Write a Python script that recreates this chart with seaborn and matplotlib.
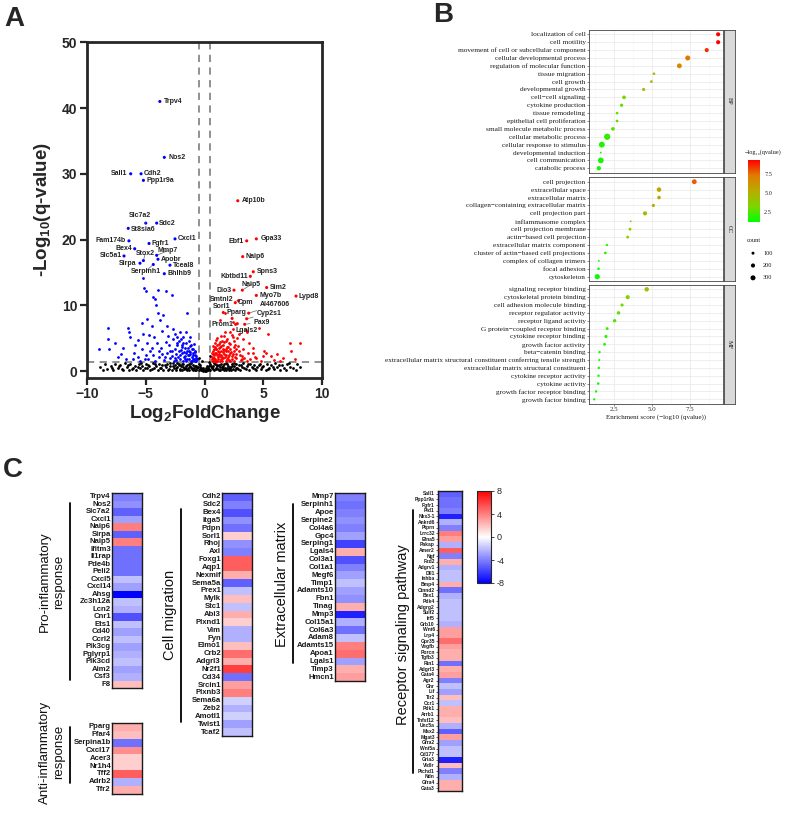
import matplotlib
matplotlib.use('Agg')
import matplotlib.pyplot as plt
import matplotlib.cm as cm
from matplotlib.colors import LinearSegmentedColormap, Normalize
from matplotlib.lines import Line2D
import seaborn as sns
import numpy as np
import pandas as pd

# ======================= DATA =======================
# ---- Panel A: volcano plot (log2FC, -log10 q) ----
down_points = [(-9.0, 3.4), (-8.2, 6.6), (-8.2, 4.8), (-8.1, 3.3), (-7.6, 4.2), (-7.4, 2.2), (-7.1, 2.6),
               (-6.9, 3.5), (-6.7, 1.9), (-6.5, 6.5), (-6.4, 5.9), (-6.3, 5.2), (-6.1, 1.8), (-6.0, 2.8),
               (-5.9, 4.0), (-5.7, 4.7), (-5.7, 2.2), (-5.5, 1.6), (-5.35, 7.3), (-5.3, 3.3), (-5.25, 5.7),
               (-5.2, 14.2), (-5.15, 12.6), (-5.0, 12.1), (-5.0, 2.5), (-4.9, 7.9), (-4.9, 4.3), (-4.8, 1.9),
               (-4.6, 3.0), (-4.5, 6.9), (-4.5, 3.5), (-4.4, 11.3), (-4.3, 5.2), (-4.2, 11.0), (-4.1, 10.1),
               (-4.05, 4.3), (-4.0, 12.3), (-4.0, 8.8), (-3.9, 2.2), (-3.8, 7.8), (-3.7, 3.5), (-3.6, 6.1),
               (-3.5, 8.5), (-3.45, 1.7), (-3.3, 12.2), (-3.2, 6.9), (-3.2, 2.8), (-3.1, 5.3), (-3.0, 4.0),
               (-2.9, 2.0), (-2.8, 11.5), (-2.8, 2.3), (-2.7, 6.4), (-2.65, 4.8), (-2.5, 3.4), (-2.4, 2.6),
               (-2.3, 5.1), (-2.2, 4.6), (-2.1, 5.9), (-2.05, 1.8), (-2.0, 3.2), (-1.95, 2.8), (-1.9, 4.0),
               (-1.8, 4.3), (-1.75, 2.2), (-1.7, 3.5), (-1.6, 1.6), (-1.55, 5.9), (-1.5, 3.1), (-1.45, 8.9),
               (-1.4, 2.5), (-1.35, 4.5), (-1.3, 1.9), (-1.25, 3.8), (-1.2, 2.9), (-1.15, 1.5), (-1.1, 3.3),
               (-1.05, 2.2), (-1.0, 2.7), (-0.95, 3.3), (-0.9, 1.8), (-0.85, 2.4), (-0.8, 1.5), (-0.75, 2.0),
               (-0.7, 1.6), (-2.6, 1.5), (-3.6, 2.6), (-4.2, 1.6), (-1.6, 2.7), (-2.3, 3.9), (-1.85, 1.5),
               (-2.75, 3.1), (-3.3, 4.4), (-4.7, 5.5), (-1.3, 2.4), (-1.0, 1.9), (-0.8, 2.9), (-1.7, 1.9),
               (-2.1, 2.4), (-2.5, 2.0), (-1.4, 3.5), (-0.9, 4.1), (-1.2, 5.2), (-2.0, 4.9),
               (-2.45, 1.7), (-2.25, 2.2), (-2.15, 3.1), (-1.95, 3.6), (-1.65, 2.3), (-1.55, 4.2),
               (-1.45, 1.8), (-1.25, 2.6), (-1.15, 4.0), (-1.05, 1.6), (-0.95, 2.5), (-0.85, 3.0),
               (-0.72, 2.3), (-0.68, 1.8), (-1.35, 3.0), (-1.75, 2.9), (-2.35, 4.3), (-2.9, 3.0),
               (-3.4, 2.2), (-3.9, 3.0), (-4.4, 2.4), (-5.1, 1.8), (-2.55, 5.6), (-1.85, 5.2)]
up_points = [(0.6, 1.6), (0.65, 2.1), (0.7, 3.0), (0.74, 3.8), (0.8, 1.5), (0.85, 2.5), (0.88, 4.3),
             (0.9, 1.9), (0.95, 3.4), (1.0, 2.8), (1.01, 3.3), (1.05, 5.0), (1.1, 1.6), (1.15, 2.2),
             (1.16, 3.1), (1.2, 4.1), (1.25, 2.6), (1.3, 7.8), (1.3, 2.3), (1.35, 3.6), (1.4, 1.8),
             (1.44, 3.8), (1.5, 4.6), (1.55, 2.9), (1.6, 2.0), (1.65, 5.3), (1.7, 3.2), (1.74, 8.8),
             (1.74, 5.9), (1.8, 1.5), (1.85, 2.5), (1.87, 4.6), (1.9, 3.7), (2.0, 2.1), (2.05, 4.2),
             (2.1, 1.7), (2.16, 2.8), (2.16, 4.1), (2.2, 3.3), (2.3, 5.5), (2.35, 2.3), (2.44, 6.4),
             (2.44, 7.4), (2.44, 5.1), (2.5, 1.6), (2.55, 3.0), (2.6, 4.0), (2.7, 2.0), (2.72, 3.3),
             (2.8, 5.0), (2.87, 3.8), (2.95, 5.6), (3.0, 2.5), (3.1, 1.7), (3.15, 2.3), (3.24, 4.8),
             (3.3, 3.3), (3.4, 2.0), (3.5, 6.2), (3.59, 5.9), (3.6, 1.5), (3.72, 2.8), (3.8, 4.3),
             (3.9, 1.8), (4.1, 3.5), (4.1, 2.8), (4.3, 2.2), (4.4, 2.0), (4.64, 6.6), (4.8, 1.6),
             (5.0, 2.3), (5.1, 3.0), (5.24, 2.8), (5.44, 5.6), (5.67, 2.3), (5.9, 1.7), (6.2, 2.6),
             (6.67, 2.0), (6.4, 1.5), (7.28, 4.2), (7.4, 3.0), (7.7, 1.8), (8.12, 4.2), (1.0, 1.4),
             (1.4, 2.5), (1.2, 3.5), (0.75, 2.6), (1.7, 2.6), (2.0, 3.0), (2.4, 2.6), (2.6, 2.2),
             (1.9, 1.9), (1.5, 1.5), (2.2, 1.5), (0.7, 2.0), (1.1, 2.5), (1.3, 4.4), (0.9, 3.6),
             (1.6, 3.9), (2.3, 1.9), (1.8, 3.4), (0.95, 1.6),
             (0.62, 2.8), (0.68, 1.8), (0.78, 3.3), (0.82, 2.0), (0.92, 2.8), (1.08, 3.9), (1.12, 1.9),
             (1.22, 2.9), (1.32, 1.6), (1.38, 3.1), (1.48, 2.1), (1.58, 3.4), (1.62, 4.4), (1.78, 2.2),
             (1.82, 3.0), (1.92, 4.9), (2.02, 3.6), (2.12, 2.4), (2.28, 2.9), (2.48, 3.6), (2.52, 4.6),
             (2.68, 2.6), (2.9, 3.0), (3.2, 1.9), (0.72, 1.5), (1.02, 4.7), (1.42, 5.3), (2.2, 6.0)]
ns_points = [(-8.9, 0.6), (-8.5, 1.0), (-8.3, 0.3), (-8.0, 0.8), (-7.8, 0.2), (-7.6, 1.1), (-7.4, 0.5),
             (-7.2, 0.9), (-7.0, 0.3), (-6.8, 1.2), (-6.6, 0.6), (-6.4, 0.2), (-6.3, 1.0), (-6.1, 0.5),
             (-5.9, 0.8), (-5.8, 0.1), (-5.6, 1.1), (-5.5, 0.4), (-5.3, 0.7), (-5.2, 0.2), (-5.0, 1.0),
             (-4.9, 0.5), (-4.7, 0.8), (-4.6, 0.1), (-4.4, 1.2), (-4.3, 0.4), (-4.1, 0.7), (-4.0, 0.2),
             (-3.9, 1.0), (-3.7, 0.5), (-3.6, 0.9), (-3.5, 0.1), (-3.3, 0.6), (-3.2, 1.1), (-3.0, 0.3),
             (-2.9, 0.8), (-2.8, 0.2), (-2.7, 1.2), (-2.6, 0.5), (-2.5, 0.9), (-2.4, 0.1), (-2.3, 0.6),
             (-2.2, 1.0), (-2.1, 0.3), (-2.0, 0.7), (-1.9, 0.2), (-1.8, 1.1), (-1.7, 0.5), (-1.6, 0.8),
             (-1.5, 0.1), (-1.4, 0.4), (-1.3, 1.0), (-1.2, 0.6), (-1.1, 0.3), (-1.0, 0.9), (-0.9, 0.5),
             (-0.8, 0.2), (-0.7, 0.7), (-0.6, 0.4), (-0.5, 1.1), (-0.45, 2.0), (-0.4, 0.3), (-0.35, 0.9),
             (-0.3, 0.2), (-0.25, 1.5), (-0.2, 0.1), (-0.15, 0.5), (-0.1, 0.05), (0.0, 0.0), (0.1, 0.05),
             (0.15, 0.4), (0.2, 0.1), (0.25, 0.8), (0.3, 0.2), (0.35, 1.4), (0.4, 0.3), (0.45, 2.3),
             (0.5, 1.0), (0.6, 0.4), (0.7, 0.8), (0.8, 0.2), (0.9, 1.1), (1.0, 0.5), (1.1, 0.9), (1.2, 0.1),
             (1.3, 0.6), (1.4, 1.0), (1.5, 0.3), (1.6, 0.7), (1.7, 0.2), (1.8, 1.2), (1.9, 0.5), (2.0, 0.8),
             (2.1, 0.1), (2.2, 0.6), (2.3, 1.0), (2.4, 0.3), (2.5, 0.7), (2.6, 0.2), (2.7, 1.1), (2.8, 0.5),
             (2.9, 0.9), (3.0, 0.1), (3.2, 0.6), (3.3, 1.2), (3.5, 0.3), (3.6, 0.8), (3.8, 0.2), (3.9, 1.0),
             (4.1, 0.5), (4.2, 0.9), (4.4, 0.1), (4.5, 0.6), (4.7, 1.1), (4.8, 0.3), (5.0, 0.8), (5.2, 0.2),
             (5.3, 1.0), (5.5, 0.5), (5.7, 0.9), (5.9, 0.3), (6.0, 1.2), (6.2, 0.6), (6.4, 0.2), (6.6, 0.9),
             (6.8, 0.4), (7.0, 1.1), (7.3, 0.6), (7.56, 0.4), (7.9, 1.0), (8.1, 0.6), (-1.55, 0.35),
             (-1.25, 0.75), (-0.95, 0.15), (-0.65, 0.55), (0.65, 0.6), (0.95, 0.25), (1.25, 0.85),
             (1.55, 0.5), (1.85, 0.15), (2.15, 0.4), (-2.15, 0.85), (-2.45, 0.45), (-1.85, 0.6),
             (-6.9, 0.15), (-6.5, 0.9), (-6.2, 0.35), (-5.7, 0.6), (-5.4, 1.2), (-5.1, 0.45), (-4.8, 0.9),
             (-4.5, 0.25), (-4.2, 1.05), (-3.8, 0.45), (-3.4, 0.85), (-3.1, 0.15), (-2.95, 1.25),
             (-2.65, 0.7), (-2.35, 1.2), (-2.05, 0.2), (-1.95, 1.0), (-1.75, 0.35), (-1.45, 0.9),
             (-1.35, 0.15), (-1.15, 1.2), (-1.05, 0.4), (-0.85, 0.8), (-0.75, 0.1), (-0.55, 0.6),
             (-0.48, 0.2), (-0.38, 0.6), (-0.28, 0.45), (-0.05, 0.15), (0.05, 0.2), (0.28, 0.5),
             (0.38, 0.7), (0.48, 0.15), (0.55, 0.8), (0.75, 0.3), (0.85, 1.2), (1.05, 0.7), (1.15, 0.35),
             (1.35, 0.2), (1.45, 0.6), (1.65, 1.1), (1.75, 0.45), (1.95, 1.0), (2.05, 0.35), (2.25, 0.15),
             (2.35, 0.8), (2.55, 1.2), (2.65, 0.45), (2.85, 0.25), (3.1, 0.9), (3.4, 0.5), (3.7, 1.1),
             (4.0, 0.6), (4.3, 0.35), (4.6, 0.9), (4.9, 0.55), (5.4, 0.25), (5.8, 0.6), (6.3, 0.9),
             (6.9, 0.2), (7.2, 1.2), (7.8, 0.2), (-7.9, 0.5), (-7.3, 0.7), (-8.6, 0.2)]

# labelled genes: name, log2FC, -log10 q
lab_genes = ["Trpv4", "Nos2", "Sall1", "Cdh2", "Ppp1r9a", "Atp10b", "Slc7a2", "Sdc2", "St8sia6", "Cxcl1",
             "Fam174b", "Fgfr1", "Bex4", "Mmp7", "Stox2", "Apobr", "Slc5a1", "Sirpa", "Serpinh1", "Tceal8",
             "Bhlhb9", "Ebf1", "Gpa33", "Naip6", "Spns3", "Kbtbd11", "Naip5", "Sim2", "Dio3", "Myo7b",
             "Lypd8", "Smtnl2", "Cpm", "AI467606", "Sorl1", "Pparg", "Cyp2s1", "Pax9", "Prom1", "Lgals2"]
lab_x = [-3.8, -3.42, -6.28, -5.4, -5.2, 2.83, -5.0, -4.07, -6.49, -2.51,
         -6.43, -4.72, -5.94, -4.07, -5.2, -3.96, -6.85, -5.49, -4.36, -2.94,
         -3.42, 3.59, 4.41, 3.25, 4.15, 3.9, 3.22, 5.29, 2.51, 4.41,
         7.79, 2.9, 2.62, 3.76, 1.6, 2.35, 3.59, 3.42, 2.65, 2.79]
lab_y = [41.0, 32.5, 30.0, 30.0, 29.0, 25.9, 22.5, 22.5, 21.7, 20.1,
         19.8, 19.4, 18.6, 17.6, 16.8, 17.0, 17.5, 16.4, 16.2, 16.1,
         14.8, 19.8, 20.1, 17.4, 15.1, 14.4, 12.3, 12.7, 12.3, 11.5,
         11.4, 10.7, 10.4, 8.8, 8.9, 8.0, 7.95, 7.1, 7.1, 7.2]
# label placement (style)
lab_tx = [-3.45, -3.1, -6.55, -5.15, -4.93, 3.2, -5.5, -3.85, -6.28, -2.29,
          -6.68, -4.5, -6.12, -3.99, -5.05, -3.74, -7.05, -5.77, -5.0, -2.71,
          -3.17, 3.3, 4.78, 3.5, 4.43, 3.72, 4.0, 5.52, 2.31, 4.67,
          7.98, 2.45, 2.79, 4.72, 2.22, 1.88, 4.43, 4.15, 2.45, 2.65]
lab_ty = [41.0, 32.5, 30.0, 30.0, 29.0, 25.9, 23.6, 22.5, 21.6, 20.1,
          19.8, 19.4, 18.6, 18.3, 17.8, 17.0, 17.5, 16.4, 15.2, 16.1,
          14.8, 19.7, 20.1, 17.4, 15.1, 14.4, 13.2, 12.7, 12.3, 11.5,
          11.4, 10.9, 10.4, 10.1, 9.8, 8.9, 8.8, 7.45, 7.1, 6.1]
lab_ha = ['left', 'left', 'right', 'left', 'left', 'left', 'center', 'left', 'left', 'left',
          'right', 'left', 'right', 'left', 'center', 'left', 'right', 'right', 'center', 'left',
          'left', 'right', 'left', 'left', 'left', 'right', 'center', 'left', 'right', 'left',
          'left', 'right', 'left', 'left', 'right', 'left', 'left', 'left', 'right', 'left']
lab_leader = [False, False, False, False, False, False, True, False, False, False,
              False, False, False, True, True, False, False, False, True, False,
              False, False, False, False, False, False, True, False, False, False,
              False, True, False, True, False, False, True, True, False, True]

# ---- Panel B: GO enrichment ----
bp_terms = ["localization of cell", "cell motility", "movement of cell or subcellular component",
            "cellular developmental process", "regulation of molecular function", "tissue migration",
            "cell growth", "developmental growth", "cell\u2212cell signaling", "cytokine production",
            "tissue remodeling", "epithelial cell proliferation", "small molecule metabolic process",
            "cellular metabolic process", "cellular response to stimulus", "developmental induction",
            "cell communication", "catabolic process"]
bp_score = [9.35, 9.35, 8.6, 7.35, 6.8, 5.13, 4.96, 4.45, 3.16, 3.0, 2.7, 2.7, 2.43, 2.05, 1.7, 1.63, 1.63, 1.5]
bp_count = [200, 200, 200, 300, 280, 70, 80, 110, 160, 120, 80, 80, 150, 480, 420, 30, 400, 220]

cc_terms = ["cell projection", "extracellular space", "extracellular matrix",
            "collagen\u2212containing extracellular matrix", "cell projection part", "inflammasome complex",
            "cell projection membrane", "actin\u2212based cell projection", "extracellular matrix component",
            "cluster of actin\u2212based cell projections", "complex of collagen trimers", "focal adhesion",
            "cytoskeleton"]
cc_score = [7.78, 5.46, 5.46, 5.09, 4.54, 3.6, 3.55, 3.4, 2.03, 1.93, 1.5, 1.48, 1.4]
cc_count = [280, 250, 150, 120, 200, 30, 90, 90, 60, 80, 30, 70, 320]

mf_terms = ["signaling receptor binding", "cytoskeletal protein binding", "cell adhesion molecule binding",
            "receptor regulator activity", "receptor ligand activity", "G protein\u2212coupled receptor binding",
            "cytokine receptor binding", "growth factor activity", "beta\u2212catenin binding",
            "extracellular matrix structural constituent conferring tensile strength",
            "extracellular matrix structural constituent", "cytokine receptor activity", "cytokine activity",
            "growth factor receptor binding", "growth factor binding"]
mf_score = [4.65, 3.4, 3.03, 2.8, 2.54, 2.05, 1.97, 1.88, 1.55, 1.53, 1.5, 1.48, 1.46, 1.32, 1.2]
mf_count = [230, 200, 110, 140, 130, 90, 110, 90, 60, 40, 60, 60, 70, 60, 50]

count_legend = [100, 200, 300]
score_ticks = [2.5, 5.0, 7.5]

# ---- Panel C: heatmaps (log2FC) ----
pro_genes = ["Trpv4", "Nos2", "Slc7a2", "Cxcl1", "Naip6", "Sirpa", "Naip5", "Ifitm3", "Il1rap", "Pde4b",
             "Peli2", "Cxcl5", "Cxcl14", "Ahsg", "Zc3h12a", "Lcn2", "Cnr1", "Ets1", "Cd40", "Ccrl2",
             "Pik3cg", "Pglyrp1", "Pik3cd", "Aim2", "Csf3", "F8"]
pro_vals = [-4, -3.5, -5, -3, 4, -5, 4, -4.5, -4.5, -4.5, -4.5, -2, -3, -8, -2, -2.5, -5.5, -2, -3, -2,
            -3, -2.5, -2, -3, -2.5, 2]
anti_genes = ["Pparg", "Ffar4", "Serpina1b", "Cxcl17", "Acer3", "Nr1h4", "Tff2", "Adrb2", "Tfr2"]
anti_vals = [2.5, 2, -4.5, 3.5, 1.5, 1.5, 5, -2.5, 2.5]
mig_genes = ["Cdh2", "Sdc2", "Bex4", "Itga5", "Pdpn", "Sorl1", "Rhoj", "Axl", "Foxg1", "Aqp1", "Nexmif",
             "Sema5a", "Prex1", "Mylk", "Stc1", "Abi3", "Plxnd1", "Vim", "Fyn", "Elmo1", "Crb2", "Adgrl3",
             "Nr2f1", "Cd34", "Srcin1", "Plxnb3", "Sema6a", "Zeb2", "Amotl1", "Twist1", "Tcaf2"]
mig_vals = [-5, -4, -5.5, -3.5, -4.5, 1.5, -3.5, -4, 5, 5, 2.5, -5, -2, 2, -2, 2.5, 1.5, -2.5, -2.5, 2,
            4.5, 2.5, 6, -4.5, 3, 4, -1.5, -2.5, -1.5, -3, -2]
ecm_genes = ["Mmp7", "Serpinh1", "Apoe", "Serpine2", "Col4a6", "Gpc4", "Serping1", "Lgals4", "Col3a1",
             "Col1a1", "Megf6", "Timp1", "Adamts10", "Fbn1", "Tinag", "Mmp3", "Col15a1", "Col6a3", "Adam8",
             "Adamts15", "Apoa1", "Lgals1", "Timp3", "Hmcn1"]
ecm_vals = [-4, -4.5, -4, -3.5, -4, -3, -6, 2.5, -5.5, -4, -3, -2, -3, -3.5, 2.5, -7, -2.5, -4.5, -2,
            4, 4.5, -3, 2.5, 3]
rec_genes = ["Sall1", "Ppp1r9a", "Fgfr1", "Pid1", "Nkx3-1", "Ankrd6", "Ptprn", "Lrrc32", "Efna5", "Pakap",
             "Amer2", "Ngf", "Fzd2", "Adgrv1", "Dll1", "Inhba", "Bmp4", "Ctnnd2", "Bex1", "Pdk4", "Adgrg2",
             "Sulf2", "Irf5", "Grb10", "Wnt6", "Lrp4", "Gpr35", "Vegfb", "Porcn", "Tgfb3", "Rtn1", "Adgrl3",
             "Gata4", "Agr2", "Ghr", "Lif", "Tlr2", "Ccr1", "Pdk1", "Arrb1", "Tnfsf12", "Unc5a", "Msx2",
             "Mgat3", "Gfra2", "Wnt5a", "Cd177", "Gria3", "Vldlr", "Ptchd1", "Ndn", "Gfra4", "Gata3"]
rec_vals = [-5, -4.5, -4.5, -4, -7, -2.5, -4, 4, 3, -2.5, 5, -4, 2.5, -2.5, -2, -2, 2.5, -4.5, -2.5, -2,
            -2, -2, -2, -2.5, 3, 3, 4.5, 3, 2.5, 2.5, -4.5, 2.5, 3, -4, -2, -3, 2, -2, 2.5, 2.5, 2,
            -2.5, -5, 3, -3, -2, -2, -7, 2, -4, -2.5, 2.5, 2.5]
heat_ticks = [8, 4, 0, -4, -8]

# ======================= STYLE / LAYOUT =======================
sns.set_style('ticks')
plt.rcParams['font.family'] = ['Liberation Sans', 'DejaVu Sans']
plt.rcParams['mathtext.fontset'] = 'custom'
plt.rcParams['mathtext.rm'] = 'Liberation Sans:bold'
plt.rcParams['mathtext.it'] = 'Liberation Sans:bold'
plt.rcParams['mathtext.bf'] = 'Liberation Sans:bold'
SERIF = ['Liberation Serif', 'DejaVu Serif']

W, H = 789, 818
fig = plt.figure(figsize=(W / 100, H / 100), dpi=100)


def add_px(l, t, r, b):
    return fig.add_axes([l / W, 1 - b / H, (r - l) / W, (b - t) / H])


def fx(x):
    return x / W


def fy(y):
    return 1 - y / H


# ---------------- Panel A ----------------
axA = add_px(87, 42.3, 322, 377.6)
ns_x, ns_y = zip(*ns_points)
dn_x, dn_y = zip(*down_points)
up_x, up_y = zip(*up_points)
sns.scatterplot(x=list(ns_x), y=list(ns_y), color='black', s=4, linewidth=0, ax=axA, zorder=2)
sns.scatterplot(x=list(dn_x), y=list(dn_y), color='#0000FF', s=4, linewidth=0, ax=axA, zorder=2)
sns.scatterplot(x=list(up_x), y=list(up_y), color='#FF0000', s=4, linewidth=0, ax=axA, zorder=2)
lab_dir = ['down' if v < 0 else 'up' for v in lab_x]
sns.scatterplot(x=lab_x, y=lab_y, hue=lab_dir, palette={'down': '#0000FF', 'up': '#FF0000'},
                s=5, linewidth=0, legend=False, ax=axA, zorder=3)
for g, x, y, tx, ty, ha, ln in zip(lab_genes, lab_x, lab_y, lab_tx, lab_ty, lab_ha, lab_leader):
    axA.annotate(g, xy=(x, y), xytext=(tx, ty), ha=ha, va='center', fontsize=5, fontweight='bold',
                 color='#222222', zorder=4,
                 arrowprops=(dict(arrowstyle='-', color='#666666', lw=0.5, shrinkA=0, shrinkB=1) if ln else None))
for xv in (-0.5, 0.5):
    axA.axvline(xv, color='#888888', lw=1.3, dashes=(4, 3), zorder=1)
axA.axhline(1.3, color='#888888', lw=1.3, dashes=(4, 3), zorder=1)
axA.set_xlim(-10, 10)
axA.set_ylim(-1, 50)
axA.set_xticks([-10, -5, 0, 5, 10])
axA.set_yticks([0, 10, 20, 30, 40, 50])
axA.tick_params(width=1.6, length=5, labelsize=10, pad=2)
for lbl in axA.get_xticklabels() + axA.get_yticklabels():
    lbl.set_fontweight('bold')
for sp in axA.spines.values():
    sp.set_visible(True)
    sp.set_linewidth(2)
axA.set_xlabel('Log$_2$FoldChange', fontsize=13.5, fontweight='bold', labelpad=1)
axA.set_ylabel('-Log$_{10}$(q-value)', fontsize=13.5, fontweight='bold', labelpad=6)

# ---------------- Panel B ----------------
cmap_b = LinearSegmentedColormap.from_list('go', ['#00FF00', '#7FD400', '#B8AB00', '#E07C00', '#FF0000'])
norm_b = (1.2, 9.35)
size_range = (0.5, 21.35)
size_norm = (0, 500)
facets = [('BP', bp_terms, bp_score, bp_count, 29.6, 173.0),
          ('CC', cc_terms, cc_score, cc_count, 176.95, 281.45),
          ('MF', mf_terms, mf_score, mf_count, 284.6, 404.0)]
for i, (name, terms, sc, ct, t, b) in enumerate(facets):
    ax = add_px(589, t, 723, b)
    df = pd.DataFrame({'term': terms, 'score': sc, 'count': ct})
    ax.set_axisbelow(True)
    sns.scatterplot(data=df, x='score', y='term', hue='score', palette=cmap_b, hue_norm=norm_b,
                    size='count', sizes=size_range, size_norm=size_norm, linewidth=0,
                    legend=False, ax=ax, zorder=3)
    n = len(terms)
    ax.set_yticks(range(n))
    ax.set_yticklabels(terms, fontsize=5.2, family=SERIF, color='#1A1A1A')
    ax.set_ylim(n - 0.4, -0.6)
    ax.set_xlim(0.855, 9.67)
    ax.set_xticks(score_ticks)
    ax.set_xticks([1.25, 3.75, 6.25, 8.75], minor=True)
    ax.grid(True, which='major', color='#EBEBEB', lw=0.6)
    ax.grid(True, which='minor', axis='x', color='#F5F5F5', lw=0.4)
    ax.tick_params(axis='y', length=1.5, width=0.4, color='#333333', pad=1)
    ax.tick_params(axis='x', which='minor', length=0)
    if i < 2:
        ax.tick_params(axis='x', which='major', length=0, labelbottom=False)
    else:
        ax.tick_params(axis='x', which='major', length=1.5, width=0.4, labelsize=5, pad=1,
                       color='#333333', labelcolor='#333333')
        ax.set_xticklabels(['2.5', '5.0', '7.5'], family=SERIF)
    ax.set_xlabel('')
    ax.set_ylabel('')
    for sp in ax.spines.values():
        sp.set_visible(True)
        sp.set_color('#444444')
        sp.set_linewidth(0.6)
    sax = add_px(723.5, t, 735, b)
    sax.set_facecolor('#D9D9D9')
    sax.set_xticks([])
    sax.set_yticks([])
    for sp in sax.spines.values():
        sp.set_visible(True)
        sp.set_color('#444444')
        sp.set_linewidth(0.6)
    sax.text(0.5, 0.5, name, rotation=270, ha='center', va='center', fontsize=4.5,
             family=SERIF, color='#1A1A1A', transform=sax.transAxes)

fig.text(fx(656), fy(417), 'Enrichment score (\u2212log10 (qvalue))', fontsize=5, family=SERIF,
         ha='center', va='center', color='#1A1A1A')

cax = add_px(747.7, 160, 760, 221.7)
cb = fig.colorbar(cm.ScalarMappable(norm=Normalize(*norm_b), cmap=cmap_b), cax=cax)
cb.set_ticks(score_ticks)
cb.set_ticklabels(['2.5', '5.0', '7.5'])
cb.outline.set_visible(False)
cax.tick_params(length=0, pad=3, labelsize=4.5)
for lbl in cax.get_yticklabels():
    lbl.set_family(SERIF)
fig.text(fx(745), fy(152), '\u2212log\u2081\u2080(qvalue)', fontsize=4.5, family=SERIF, va='center',
         color='#1A1A1A')
fig.text(fx(747), fy(240), 'count', fontsize=4.5, family=SERIF, va='center', color='#1A1A1A')
lax = add_px(745, 247, 790, 284)
lax.axis('off')
sns.scatterplot(x=[8, 8, 8], y=[0, 1, 2], size=count_legend, sizes=size_range, size_norm=size_norm,
                color='black', linewidth=0, legend=False, ax=lax)
lax.set_xlim(0, 45)
lax.set_ylim(2.5, -0.5)
for k, c in enumerate(count_legend):
    lax.text(18, k, str(c), fontsize=4.5, family=SERIF, va='center', color='#1A1A1A')

# ---------------- Panel C ----------------
cmap_c = LinearSegmentedColormap.from_list('bwr2', ['#0000FF', '#FFFFFF', '#FF0000'])


def heat(genes, vals, box, fs, tick):
    ax = add_px(*box)
    df = pd.DataFrame({'log2FC': vals}, index=genes)
    sns.heatmap(df, ax=ax, cmap=cmap_c, vmin=-8, vmax=8, cbar=False, xticklabels=False, yticklabels=True)
    ax.set_yticks(np.arange(len(genes)) + 0.5)
    ax.set_yticklabels(genes, fontsize=fs, fontweight='bold', rotation=0, color='#1A1A1A')
    ax.tick_params(axis='y', length=tick, width=0.5, pad=0.8)
    ax.tick_params(axis='x', length=0)
    ax.set_ylabel('')
    for sp in ax.spines.values():
        sp.set_visible(True)
        sp.set_linewidth(1.0)
        sp.set_color('#1A1A1A')
    return ax


heat(pro_genes, pro_vals, (112, 493, 142, 688), 5.6, 0)
heat(anti_genes, anti_vals, (112, 723, 142, 793.5), 5.6, 0)
heat(mig_genes, mig_vals, (222, 493, 252, 736), 5.6, 0)
heat(ecm_genes, ecm_vals, (335, 493, 365, 681), 5.6, 0)
heat(rec_genes, rec_vals, (438, 491, 462, 791), 3.6, 1.5)

cax2 = add_px(477, 491, 491, 583)
cb2 = fig.colorbar(cm.ScalarMappable(norm=Normalize(-8, 8), cmap=cmap_c), cax=cax2)
cb2.set_ticks(heat_ticks)
cb2.set_ticklabels([str(v) for v in heat_ticks])
cb2.outline.set_linewidth(0.8)
cax2.tick_params(length=2, width=0.6, labelsize=6.5, pad=2)

group_labels = [('Pro-inflammatory\nresponse', 52, 582, 9.5, 70, 503, 680),
                ('Anti-inflammatory\nresponse', 52, 752, 9.5, 70, 727, 783),
                ('Cell migration', 170, 615, 10.5, 180.7, 509, 722),
                ('Extracellular matrix', 282, 584, 10.5, 293, 504, 663),
                ('Receptor signaling pathway', 403, 635, 10.5, 412.7, 510, 773)]
for txt, tx, ty, fs, lx, ly1, ly2 in group_labels:
    fig.text(fx(tx), fy(ty), txt, rotation=90, ha='center', va='center', fontsize=fs,
             multialignment='center', linespacing=1.15, color='#111111')
    fig.add_artist(Line2D([fx(lx), fx(lx)], [fy(ly1), fy(ly2)], transform=fig.transFigure,
                          color='black', lw=1.3))

# panel letters
fig.text(fx(14), fy(19), 'A', fontsize=20, fontweight='bold', ha='center', va='center')
fig.text(fx(443), fy(15), 'B', fontsize=20, fontweight='bold', ha='center', va='center')
fig.text(fx(13), fy(470), 'C', fontsize=20, fontweight='bold', ha='center', va='center')

fig.savefig('out.png', dpi=100, facecolor='white')
